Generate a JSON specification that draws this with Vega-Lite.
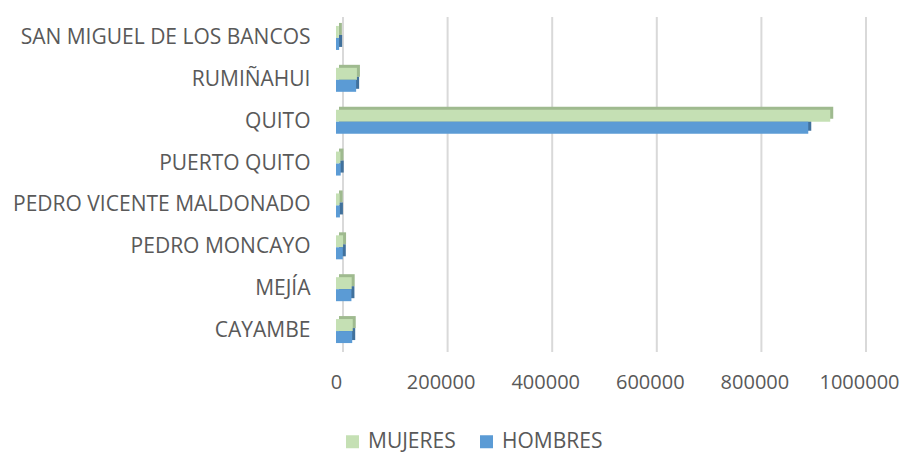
{
  "$schema": "https://vega.github.io/schema/vega-lite/v6.json",
  "width": 523,
  "height": 335,
  "autosize": {"type": "none"},
  "padding": {"left": 336, "top": 17, "right": 42, "bottom": 101},
  "background": "white",
  "config": {"view": {"stroke": null}, "font": "Open Sans"},
  "data": {
    "values": [
      {"canton": "CAYAMBE", "serie": "MUJERES", "value": 32000},
      {"canton": "CAYAMBE", "serie": "HOMBRES", "value": 31000},
      {"canton": "MEJÍA", "serie": "MUJERES", "value": 30000},
      {"canton": "MEJÍA", "serie": "HOMBRES", "value": 29500},
      {"canton": "PEDRO MONCAYO", "serie": "MUJERES", "value": 13500},
      {"canton": "PEDRO MONCAYO", "serie": "HOMBRES", "value": 13000},
      {"canton": "PEDRO VICENTE MALDONADO", "serie": "MUJERES", "value": 7000},
      {"canton": "PEDRO VICENTE MALDONADO", "serie": "HOMBRES", "value": 7500},
      {"canton": "PUERTO QUITO", "serie": "MUJERES", "value": 8500},
      {"canton": "PUERTO QUITO", "serie": "HOMBRES", "value": 9000},
      {"canton": "QUITO", "serie": "MUJERES", "value": 945000},
      {"canton": "QUITO", "serie": "HOMBRES", "value": 903000},
      {"canton": "RUMIÑAHUI", "serie": "MUJERES", "value": 40000},
      {"canton": "RUMIÑAHUI", "serie": "HOMBRES", "value": 38500},
      {"canton": "SAN MIGUEL DE LOS BANCOS", "serie": "MUJERES", "value": 5500},
      {"canton": "SAN MIGUEL DE LOS BANCOS", "serie": "HOMBRES", "value": 6000}
    ]
  },
  "layer": [
    {
      "data": {"values": [{"g": 0}, {"g": 200000}, {"g": 400000}, {"g": 600000}, {"g": 800000}, {"g": 1000000}]},
      "mark": {"type": "rule", "xOffset": 7, "color": "#d9d9d9", "strokeWidth": 2},
      "encoding": {
        "x": {"field": "g", "type": "quantitative", "scale": {"domain": [0, 1000000], "nice": false},
          "axis": {"title": null, "grid": false, "domain": false, "ticks": false, "values": [0, 200000, 400000, 600000, 800000, 1000000], "format": "d", "labelFontSize": 20, "labelColor": "#595959", "labelPadding": 20, "labelFlush": false}}
      }
    },
    {
      "mark": {"type": "bar", "xOffset": 3},
      "encoding": {
        "y": {"field": "canton", "type": "nominal", "sort": ["SAN MIGUEL DE LOS BANCOS", "RUMIÑAHUI", "QUITO", "PUERTO QUITO", "PEDRO VICENTE MALDONADO", "PEDRO MONCAYO", "MEJÍA", "CAYAMBE"],
          "scale": {"paddingInner": 0.427, "paddingOuter": 0.2135},
          "axis": {"title": null, "domain": false, "ticks": false, "labelPadding": 26, "labelFontSize": 21, "labelColor": "#595959", "labelLimit": 400}},
        "yOffset": {"field": "serie", "type": "nominal", "sort": ["MUJERES", "HOMBRES"], "scale": {"paddingInner": 0, "paddingOuter": 0, "range": [-3, 21]}},
        "x": {"field": "value", "type": "quantitative", "scale": {"domain": [0, 1000000], "nice": false},
          "axis": {"title": null, "grid": false, "domain": false, "ticks": false, "values": [0, 200000, 400000, 600000, 800000, 1000000], "format": "d", "labelFontSize": 20, "labelColor": "#595959", "labelPadding": 20, "labelFlush": false}},
        "color": {"field": "serie", "type": "nominal", "scale": {"domain": ["MUJERES", "HOMBRES"], "range": ["#9fba8f", "#41719c"]}, "legend": null}
      }
    },
    {
      "mark": {"type": "bar"},
      "encoding": {
        "y": {"field": "canton", "type": "nominal", "sort": ["SAN MIGUEL DE LOS BANCOS", "RUMIÑAHUI", "QUITO", "PUERTO QUITO", "PEDRO VICENTE MALDONADO", "PEDRO MONCAYO", "MEJÍA", "CAYAMBE"],
          "scale": {"paddingInner": 0.427, "paddingOuter": 0.2135},
          "axis": {"title": null, "domain": false, "ticks": false, "labelPadding": 26, "labelFontSize": 21, "labelColor": "#595959", "labelLimit": 400}},
        "yOffset": {"field": "serie", "type": "nominal", "sort": ["MUJERES", "HOMBRES"], "scale": {"paddingInner": 0, "paddingOuter": 0}},
        "x": {"field": "value", "type": "quantitative", "scale": {"domain": [0, 1000000], "nice": false},
          "axis": {"title": null, "grid": false, "domain": false, "ticks": false, "values": [0, 200000, 400000, 600000, 800000, 1000000], "format": "d", "labelFontSize": 20, "labelColor": "#595959", "labelPadding": 20, "labelFlush": false}},
        "color": {"field": "serie", "type": "nominal", "title": null,
          "scale": {"domain": ["MUJERES", "HOMBRES"], "range": ["#c5e0b4", "#5b9bd5"]},
          "legend": {"orient": "none", "legendX": 6, "legendY": 414, "direction": "horizontal", "title": null, "symbolType": "square", "symbolSize": 169, "symbolStrokeWidth": 0, "labelFontSize": 21, "labelColor": "#595959", "labelOffset": 5, "columnPadding": 20}}
      }
    }
  ],
  "resolve": {"scale": {"yOffset": "independent", "color": "independent"}}
}
